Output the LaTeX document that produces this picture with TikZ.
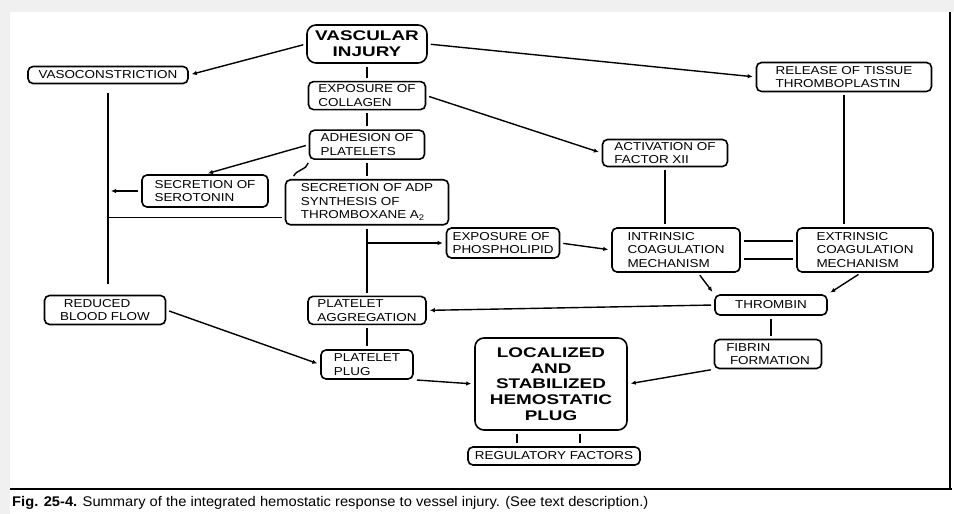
\documentclass[tikz,border=0pt]{standalone}
\usepackage{fontspec}
\setmainfont{Liberation Sans}
\newfontfamily\boxfont[FakeStretch=1.17]{Liberation Sans}
\newfontfamily\titlefont[FakeStretch=1.35]{Liberation Sans}
\newfontfamily\captionfont[FakeStretch=1.05]{Liberation Sans}
\usepackage{tikz}
\usetikzlibrary{positioning, arrows.meta}
\tikzset{
    box_base/.style={rectangle, rounded corners=5pt, draw=black, fill=white, line width=1.6pt, inner sep=1.5pt},
    box_paso/.style={box_base, align=left, font=\boxfont\fontsize{11.5}{13.5}\selectfont},
    box_grande/.style={box_base, align=center, rounded corners=9pt, font=\titlefont\bfseries\fontsize{14}{15.8}\selectfont},
    linea/.style={draw, line width=1.4pt, shorten <=3pt, shorten >=3pt},
    flecha/.style={linea, -{Latex[length=5pt, width=4.5pt]}}
}

\begin{document}
\begin{tikzpicture}[x=1pt, y=1pt]

    % Fondo y marco de la figura
    \useasboundingbox (0,0) rectangle (954,514);
    \fill[black!6] (0,0) rectangle (954,514);
    \fill[white] (10,0) rectangle (954,502);
    \draw[line width=1.2pt] (10,25) -- (952,25);
    \draw[line width=1.2pt] (950,25) -- (950,502);

    % 1. Columna central
    \node[box_grande, minimum width=120pt, minimum height=38pt] (injury) at (367,470) {VASCULAR\\INJURY};
    \node[box_paso, minimum width=117pt, minimum height=28pt, below=17pt of injury] (collagen) {EXPOSURE OF\\COLLAGEN};
    \node[box_paso, minimum width=115pt, minimum height=29pt, below=19pt of collagen] (adhesion) {ADHESION OF\\PLATELETS};
    \node[box_paso, minimum width=163pt, minimum height=45pt, below=19pt of adhesion] (adp) {SECRETION OF ADP\\SYNTHESIS OF\\THROMBOXANE A\textsubscript{2}};
    \node[box_paso, minimum width=118pt, minimum height=28pt, below=70pt of adp] (aggregation) {PLATELET\\AGGREGATION};
    \node[box_paso, minimum width=92pt, minimum height=29pt, below=24pt of aggregation] (plug) {PLATELET\\PLUG};

    % 2. Lado izquierdo
    \node[box_paso, minimum width=160pt, minimum height=17pt] (vasoc) at (108,439) {VASOCONSTRICTION};
    \node[box_paso, minimum width=126pt, minimum height=32pt] (serotonin) at (205,323) {SECRETION OF\\SEROTONIN};
    \node[box_paso, minimum width=121pt, minimum height=29pt] (reduced) at (105,204) {\ REDUCED\\BLOOD FLOW};

    % 3. Lado derecho (coagulacion)
    \node[box_paso, minimum width=175pt, minimum height=29pt] (release) at (844,437) {RELEASE OF TISSUE\\THROMBOPLASTIN};
    \node[box_paso, minimum width=125pt, minimum height=27pt] (factor) at (665,361) {ACTIVATION OF\\FACTOR XII};
    \node[box_paso, minimum width=113pt, minimum height=30pt] (phospho) at (503,271) {EXPOSURE OF\\PHOSPHOLIPID};
    \node[box_paso, minimum width=128pt, minimum height=44pt] (intrinsic) at (676,264) {INTRINSIC\\COAGULATION\\MECHANISM};
    \node[box_paso, minimum width=136pt, minimum height=44pt] (extrinsic) at (865,264) {EXTRINSIC\\COAGULATION\\MECHANISM};
    \node[box_paso, align=center, minimum width=112pt, minimum height=20pt] (thrombin) at (771,209) {THROMBIN};
    \node[box_paso, minimum width=107pt, minimum height=29pt] (fibrin) at (768,160) {FIBRIN\\\ FORMATION};

    % 4. Resultado final
    \node[box_grande, minimum width=152pt, minimum height=92pt] (localized) at (551,130) {LOCALIZED\\AND\\STABILIZED\\HEMOSTATIC\\PLUG};
    \node[box_paso, align=center, minimum width=172pt, minimum height=18pt] (regulatory) at (554,58) {REGULATORY FACTORS};

    % Pie de figura
    \node[anchor=west, inner sep=0pt, font=\captionfont\fontsize{14}{16}\selectfont] (caption) at (12,11)
        {\textbf{Fig. 25-4.} Summary of the integrated hemostatic response to vessel injury. (See text description.)};

    % --- CONEXIONES ---
    \draw[flecha] (injury.west) -- (vasoc.east);
    \draw[flecha] (injury.east) -- (release.west);
    \draw[linea] (injury.south) -- (collagen.north);
    \draw[linea] (collagen.south) -- (adhesion.north);
    \draw[flecha] (collagen.east) -- (factor.west);
    \draw[flecha] (adhesion.west) -- (serotonin.north);
    \draw[linea] (adhesion.south west) to[out=-100, in=70] ([xshift=8pt]adp.north west);
    \draw[linea] (adhesion.south) -- (adp.north);

    % Rama de vasoconstriccion
    \draw[linea, shorten <=9pt, shorten >=11pt] (vasoc.south) -- (vasoc.south |- reduced.north);
    \draw[flecha] (serotonin.west) -- (serotonin.west -| vasoc.south);
    \draw[linea, shorten >=0pt] ([yshift=-15pt]adp.west) -- ([yshift=-15pt]adp.west -| vasoc.south);

    % Rama de plaquetas
    \coordinate (trunk) at (adp.south |- phospho.west);
    \draw[linea] (adp.south) -- (aggregation.north);
    \draw[flecha, shorten <=0pt] (trunk) -- (phospho.west);
    \draw[flecha] (phospho.east) -- (intrinsic.west);
    \draw[linea] (aggregation.south) -- (plug.north);

    % Coagulacion
    \draw[linea] (factor.south) -- (factor.south |- intrinsic.north);
    \draw[linea] (release.south) -- (release.south |- extrinsic.north);
    \draw[linea] ([yshift=9pt]intrinsic.east) -- ([yshift=9pt]intrinsic.east -| extrinsic.west);
    \draw[linea] ([yshift=-9pt]intrinsic.east) -- ([yshift=-9pt]intrinsic.east -| extrinsic.west);
    \draw[flecha] ([xshift=22pt]intrinsic.south) -- (thrombin.north west);
    \draw[flecha] ([xshift=-4pt]extrinsic.south) -- (thrombin.north east);
    \draw[flecha] (thrombin.west) -- (aggregation.east);
    \draw[linea] (thrombin.south) -- (thrombin.south |- fibrin.north);

    % Hacia el tapon hemostatico
    \draw[flecha] (reduced.east) -- (plug.west);
    \draw[flecha] (plug.south east) -- (localized.west);
    \draw[flecha] (fibrin.south west) -- (localized.east);
    \foreach \dx in {-34, 29}
        \draw[linea] ([xshift=\dx pt]localized.south) -- ([xshift=\dx pt]localized.south |- regulatory.north);

\end{tikzpicture}
\end{document}
